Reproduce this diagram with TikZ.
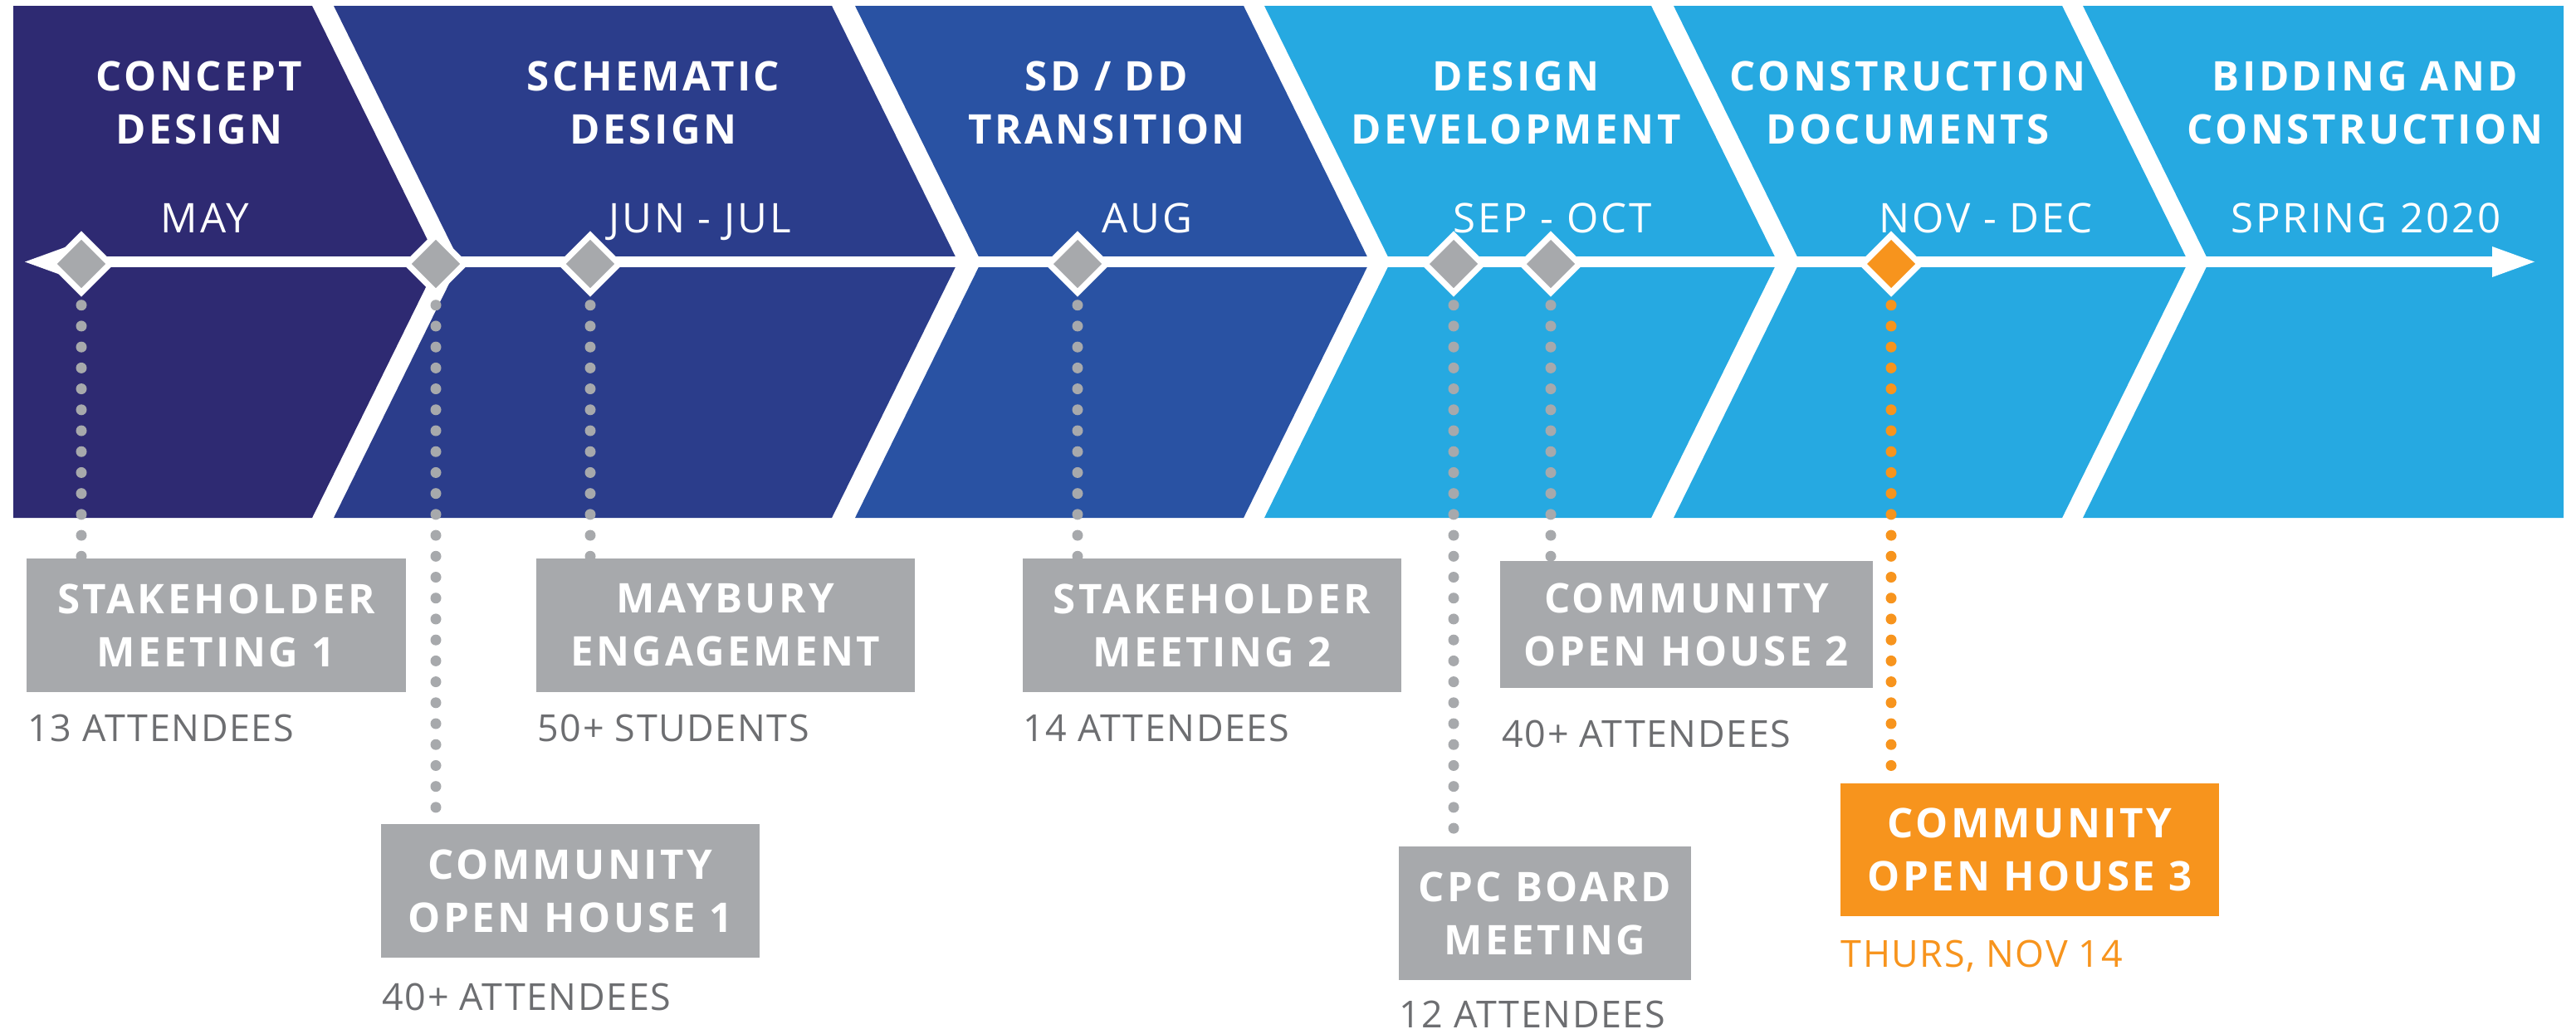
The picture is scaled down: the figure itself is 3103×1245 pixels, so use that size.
\documentclass[tikz,border=0pt]{standalone}
\usepackage{fontspec}
\setmainfont{Open Sans}
\newfontfamily\headfont{Open Sans}[LetterSpace=7]
\newfontfamily\monthfont{Open Sans}[LetterSpace=6]
\newfontfamily\countfont{Open Sans}[LetterSpace=3.5]
\usetikzlibrary{arrows.meta}
\usetikzlibrary{shapes.geometric}
\usetikzlibrary{calc}
\usetikzlibrary{positioning}

\definecolor{concept}{RGB}{46,42,114}
\definecolor{schematic}{RGB}{43,61,139}
\definecolor{transition}{RGB}{41,82,163}
\definecolor{development}{RGB}{38,169,225}
\definecolor{boxgray}{RGB}{167,169,172}
\definecolor{textgray}{RGB}{109,110,113}
\definecolor{openhouse}{RGB}{247,148,29}

\begin{document}
\begin{tikzpicture}[x=0.01cm,y=-0.01cm]
\useasboundingbox (0,0) rectangle (3103,1245);
\tikzset{phase/.style={
           text=white,
           align=center,
           inner sep=0pt,
           font=\headfont\bfseries\fontsize{14}{18.2}\selectfont,
           },
         month/.style={text=white, anchor=base, inner sep=0pt,
           font=\monthfont\fontsize{14}{18.2}\selectfont},
         event/.style={
           fill=boxgray,
           text=white,
           align=center,
           inner sep=0pt,
           minimum width=4.56cm,
           minimum height=1.6cm,
           font=\headfont\bfseries\fontsize{14}{18.2}\selectfont,
           },
         count/.style={text=textgray, anchor=base west, inner sep=0pt,
           font=\countfont\fontsize{12.75}{15}\selectfont},
         milestone/.style={diamond, aspect=1, fill=boxgray, draw=white,
           line width=2.1pt, minimum width=0.72cm, minimum height=0.72cm,
           inner sep=0pt},
         dots/.style={boxgray, line width=0.13cm, line cap=round,
           dash pattern=on 0pt off 0.252cm, shorten <=0.1cm},
         timeline/.style={white, line width=0.135cm,
           {Triangle[length=0.51cm,width=0.37cm,line width=0pt]}-{Triangle[length=0.51cm,width=0.37cm,line width=0pt]}},
}
%==========================================
% phase bands
\fill[concept] (16,7) -- (376,7) -- (528,315.5) -- (376,624) -- (16,624) -- cycle;
\fill[schematic] (402,7) -- (1002,7) -- (1154,315.5) -- (1002,624) -- (402,624) -- (554,315.5) -- cycle;
\fill[transition] (1030,7) -- (1498,7) -- (1650,315.5) -- (1498,624) -- (1030,624) -- (1182,315.5) -- cycle;
\fill[development] (1523,7) -- (1989,7) -- (2141,315.5) -- (1989,624) -- (1523,624) -- (1675,315.5) -- cycle;
\fill[development] (2016,7) -- (2484,7) -- (2636,315.5) -- (2484,624) -- (2016,624) -- (2168,315.5) -- cycle;
\fill[development] (2509,7) -- (3088,7) -- (3088,624) -- (2509,624) -- (2661,315.5) -- cycle;
%==========================================
% time line
\coordinate (start) at (30,315.5);
\coordinate (end) at (3053,315.5);
\draw[timeline] (start) -- (end);
\node[milestone] (m1) at (98,318) {};
\node[milestone] (m2) at (525,318) {};
\node[milestone] (m3) at (711,318) {};
\node[milestone] (m4) at (1298,318) {};
\node[milestone] (m5) at (1751,318) {};
\node[milestone] (m6) at (1868,318) {};
\node[milestone,fill=openhouse] (m7) at (2278,318) {};
%==========================================
% phase names and months
\node[phase] (h1) at (240,124) {CONCEPT\\DESIGN};
\node[phase] (h2) at (787,124) {SCHEMATIC\\DESIGN};
\node[phase] (h3) at (1333,124) {SD / DD\\TRANSITION};
\node[phase] (h4) at (1826,124) {DESIGN\\DEVELOPMENT};
\node[phase] (h5) at (2298,124) {CONSTRUCTION\\DOCUMENTS};
\node[phase] (h6) at (2849,124) {BIDDING AND\\CONSTRUCTION};
\node[month] (t1) at (247,280) {MAY};
\node[month] (t2) at (843,280) {JUN - JUL};
\node[month] (t3) at (1382,280) {AUG};
\node[month] (t4) at (1870,280) {SEP - OCT};
\node[month] (t5) at (2392,280) {NOV - DEC};
\node[month] (t6) at (2850,280) {SPRING 2020};
%==========================================
% meetings
\node[event] (b1) at (260.5,753.5) {STAKEHOLDER\\MEETING 1};
\node[event] (b2) at (687,1073.5) {COMMUNITY\\OPEN HOUSE 1};
\node[event] (b3) at (874,753.5) {MAYBURY\\ENGAGEMENT};
\node[event] (b4) at (1460,753.5) {STAKEHOLDER\\MEETING 2};
\node[event,minimum width=3.52cm] (b5) at (1861,1100.5) {CPC BOARD\\MEETING};
\node[event,minimum width=4.49cm,minimum height=1.52cm] (b6) at (2031.5,752.5) {COMMUNITY\\OPEN HOUSE 2};
\node[event,fill=openhouse] (b7) at (2445,1024) {COMMUNITY\\OPEN HOUSE 3};
\node[count] (c1) at (33,893) {13 ATTENDEES};
\node[count] (c2) at (460,1217) {40+ ATTENDEES};
\node[count] (c3) at (647,893) {50+ STUDENTS};
\node[count] (c4) at (1232,893) {14 ATTENDEES};
\node[count] (c5) at (1685,1238) {12 ATTENDEES};
\node[count] (c6) at (1809,900) {40+ ATTENDEES};
\node[count,text=openhouse] (c7) at (2217,1165) {THURS, NOV 14};
%==========================================
\draw[dots] (m1.south) -- (m1.south |- b1.north);
\draw[dots] (m2.south) -- (m2.south |- b2.north);
\draw[dots] (m3.south) -- (m3.south |- b3.north);
\draw[dots] (m4.south) -- (m4.south |- b4.north);
\draw[dots] (m5.south) -- (m5.south |- b5.north);
\draw[dots] (m6.south) -- (m6.south |- b6.north);
\draw[dots,openhouse] (m7.south) -- (m7.south |- b7.north);
\end{tikzpicture}
\end{document}
